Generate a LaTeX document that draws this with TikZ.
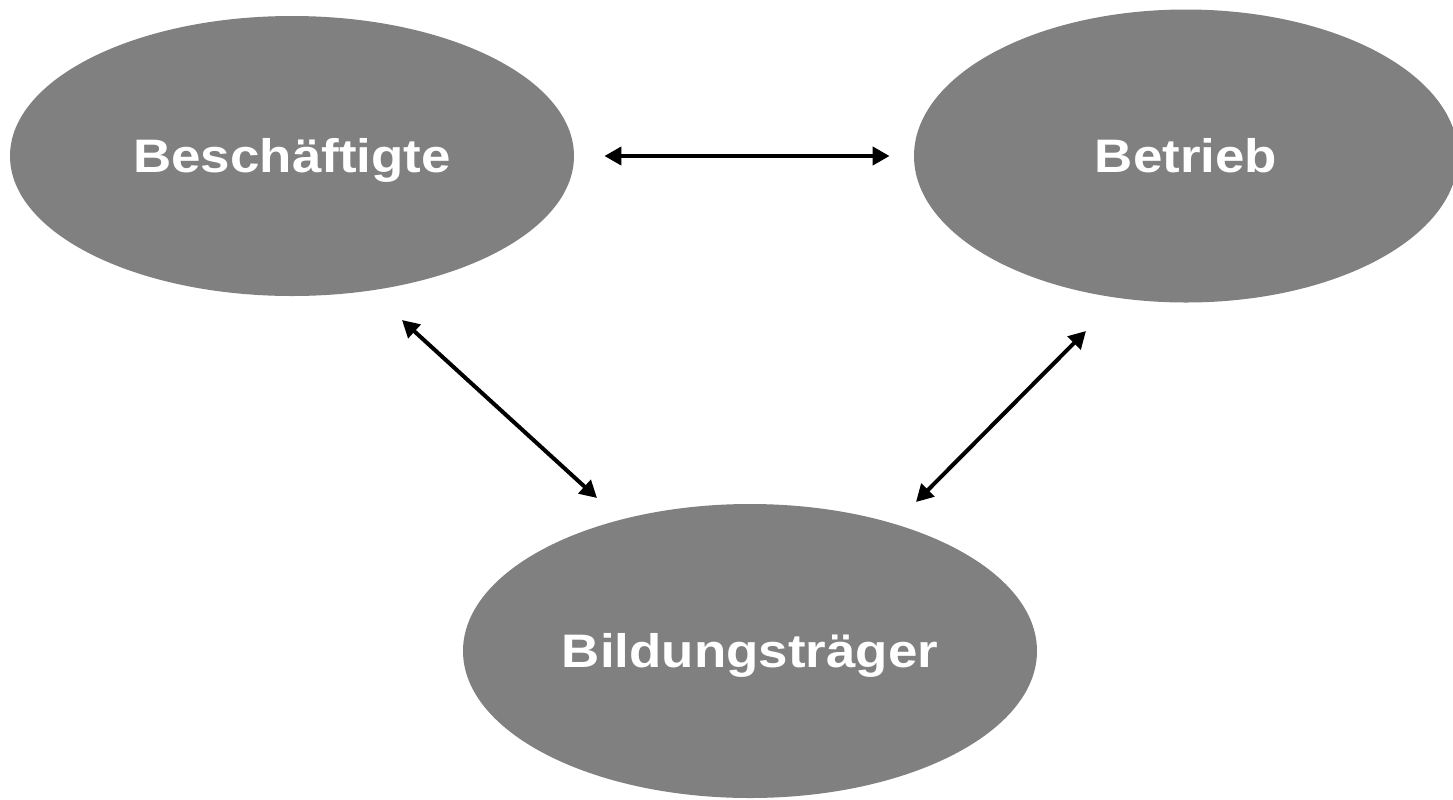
\documentclass[tikz,border=0pt]{standalone}
\usepackage{fontspec}
\setmainfont{Liberation Sans}[FakeStretch=1.125]
\usetikzlibrary{shapes.geometric,arrows.meta}
\definecolor{ovalgray}{RGB}{128,128,128}
\tikzset{
  party/.style={ellipse,fill=ovalgray,inner sep=0pt,text=white,
    font=\fontsize{23.5}{28}\selectfont\bfseries,
    text height=16.8pt,text depth=0pt},
  link/.style={line width=2pt,{Triangle[length=8.5pt,width=9pt]}-{Triangle[length=8.5pt,width=9pt]}}
}
\begin{document}
\begin{tikzpicture}[x=0.5pt,y=-0.5pt]
\useasboundingbox (0,0) rectangle (1453,799);
    \begin{scope}
\node[party,minimum width=282pt,minimum height=140pt] (besch) at (292,156) {Beschäftigte};
\node[party,minimum width=272pt,minimum height=146.5pt] (betrieb) at (1186,156) {Betrieb};
\node[party,minimum width=287pt,minimum height=147pt] (bild) at (750,651) {Bildungsträger};

\coordinate (besch-out) at (402,320);
\coordinate (bild-left) at (597,498);
\coordinate (betrieb-out) at (1086,331);
\coordinate (bild-right) at (916,502);

\draw[link,shorten <=15pt,shorten >=12pt] (besch) -- (betrieb);
\draw[link] (besch-out) -- (bild-left);
\draw[link] (betrieb-out) -- (bild-right);
\end{scope}
 \end{tikzpicture}
\end{document}
